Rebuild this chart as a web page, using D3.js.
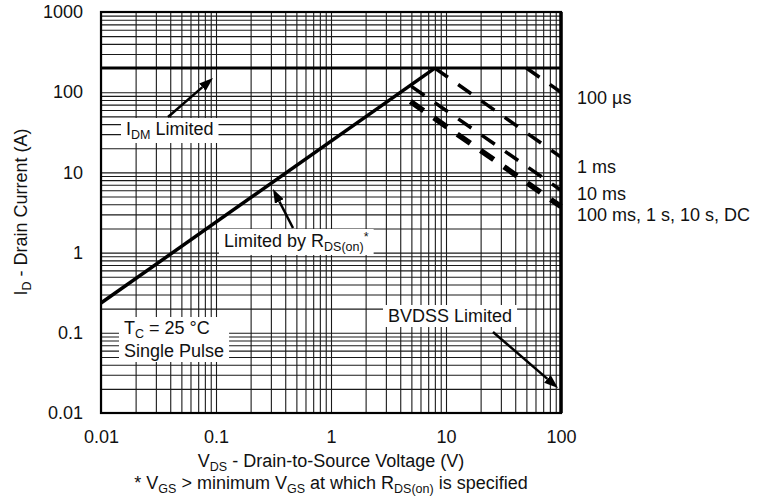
<!DOCTYPE html>
<html>
<head>
<meta charset="utf-8">
<script src="https://cdnjs.cloudflare.com/ajax/libs/d3/7.8.5/d3.min.js"></script>
<style>
  body { margin: 0; background: #fff; }
  text { font-family: "Liberation Sans", Arial, Helvetica, sans-serif; font-size: 18px; fill: #111; }
</style>
</head>
<body>
<div id="chart"></div>
<script>
// axis ticks
var xTicks = [0.01, 0.1, 1, 10, 100];
var yTicks = [0.01, 0.1, 1, 10, 100, 1000];

// limit lines, points are [V, A]
var idmLimit = [[0.01, 200], [100, 200]];
var rdsLimit = [[0.01, 0.235], [8, 200]];

// pulse width lines
var pulseNames = ["100 µs", "1 ms", "10 ms", "100 ms, 1 s, 10 s, DC"];
var pulse100us = [[50, 200], [100, 100]];
var pulse1ms = [[8, 200], [100, 15.5]];
var pulse10ms = [[5, 118], [100, 6]];
var pulseDC = [[4, 94], [100, 3.75]];
var pulseLabelAt = [85, 12, 5.5, 3.0];

// set the dimensions and margins of the graph
var margin = {top: 12, right: 196, bottom: 84, left: 101},
    width = 757 - margin.left - margin.right,
    height = 497 - margin.top - margin.bottom;

var x = d3.scaleLog().domain([0.01, 100]).range([0, width]);
var y = d3.scaleLog().domain([0.01, 1000]).range([height, 0]);

var line = d3.line()
    .x(function(d) { return x(d[0]); })
    .y(function(d) { return y(d[1]); });

var svg = d3.select("#chart").append("svg")
    .attr("width", 757)
    .attr("height", 497)
  .append("g")
    .attr("transform", "translate(" + margin.left + "," + margin.top + ")");

svg.append("defs").append("marker")
    .attr("id", "head")
    .attr("viewBox", "0 0 14 10")
    .attr("refX", 0).attr("refY", 5)
    .attr("markerUnits", "userSpaceOnUse")
    .attr("markerWidth", 14).attr("markerHeight", 10)
    .attr("orient", "auto")
  .append("path")
    .attr("d", "M0,0L14,5L0,10Z")
    .attr("fill", "#000");

// grid lines, every 1..9 in each decade
var gx = svg.append("g")
    .attr("transform", "translate(0," + height + ")")
    .call(d3.axisBottom(x).tickValues(x.ticks()).tickSize(-height).tickFormat(""));
var gy = svg.append("g")
    .call(d3.axisLeft(y).tickValues(y.ticks()).tickSize(-width).tickFormat(""));
[gx, gy].forEach(function(g) {
  g.select(".domain").remove();
  g.selectAll(".tick line").attr("stroke", "#1a1a1a").attr("stroke-width", 1.1);
});

// tick labels
var ax = svg.append("g")
    .attr("transform", "translate(0," + height + ")")
    .call(d3.axisBottom(x).tickValues(xTicks).tickSize(0).tickPadding(17)
      .tickFormat(function(d) { return String(d); }));
var ay = svg.append("g")
    .call(d3.axisLeft(y).tickValues(yTicks).tickSize(0).tickPadding(18)
      .tickFormat(function(d) { return String(d); }));
[ax, ay].forEach(function(g) {
  g.select(".domain").remove();
  g.selectAll("text").attr("font-size", 18).attr("font-family", null).attr("fill", "#111");
});

// frame, right edge is the BVDSS limit
svg.append("rect")
    .attr("width", width).attr("height", height)
    .attr("fill", "none").attr("stroke", "#000").attr("stroke-width", 2.2);
svg.append("line")
    .attr("x1", x(100)).attr("x2", x(100))
    .attr("y1", 0).attr("y2", height)
    .attr("stroke", "#000").attr("stroke-width", 3.5);

// limit lines
svg.append("path").datum(idmLimit)
    .attr("d", line).attr("fill", "none")
    .attr("stroke", "#000").attr("stroke-width", 3);
svg.append("path").datum(rdsLimit)
    .attr("d", line).attr("fill", "none")
    .attr("stroke", "#000").attr("stroke-width", 3.5);

// pulse lines
var pulses = [pulse100us, pulse1ms, pulse10ms, pulseDC];
var pulseWidth = [3.5, 3.5, 3.5, 5.5];
var pulseOffset = [0, 0, 0, 16];
pulses.forEach(function(p, i) {
  svg.append("path").datum(p)
      .attr("d", line).attr("fill", "none")
      .attr("stroke", "#000")
      .attr("stroke-width", pulseWidth[i])
      .attr("stroke-dasharray", "16,12.5")
      .attr("stroke-dashoffset", pulseOffset[i]);
  svg.append("text")
      .attr("x", x(100) + 16)
      .attr("y", y(pulseLabelAt[i]))
      .attr("dy", "0.36em")
      .text(pulseNames[i]);
});

// text with sub / superscript parts: [string, 0 normal | 1 sub | 2 sup]
function richText(sel, parts) {
  var shift = 0;
  parts.forEach(function(p) {
    var want = p[1] === 1 ? 4 : (p[1] === 2 ? -6 : 0);
    var t = sel.append("tspan").attr("dy", want - shift).text(p[0]);
    if (p[1]) t.attr("font-size", 12.5);
    shift = want;
  });
  return sel;
}

// labelled boxes
function label(px, py, lines, lead) {
  var g = svg.append("g");
  var box = g.append("rect").attr("fill", "#fff");
  lines.forEach(function(parts, i) {
    richText(g.append("text").attr("x", px).attr("y", py + i * (lead || 21)), parts);
  });
  var b = g.node().getBBox();
  box.attr("x", b.x - 5).attr("y", b.y - 1)
     .attr("width", b.width + 10).attr("height", b.height + 2);
}

function arrow(x1, y1, x2, y2) {
  var dx = x2 - x1, dy = y2 - y1, len = Math.sqrt(dx * dx + dy * dy);
  svg.append("line")
      .attr("x1", x1).attr("y1", y1)
      .attr("x2", x2 - dx / len * 14).attr("y2", y2 - dy / len * 14)
      .attr("stroke", "#000").attr("stroke-width", 2.5)
      .attr("marker-end", "url(#head)");
}

var ox = margin.left, oy = margin.top;
label(126 - ox, 135 - oy, [[["I", 0], ["DM", 1], [" Limited", 0]]]);
arrow(168 - ox, 117 - oy, 213 - ox, 78 - oy);

label(224 - ox, 247 - oy, [[["Limited by R", 0], ["DS(on)", 1], ["*", 2]]]);
arrow(293 - ox, 228 - oy, 273 - ox, 189 - oy);

label(124 - ox, 334 - oy, [[["T", 0], ["C", 1], [" = 25 °C", 0]], [["Single Pulse", 0]]], 23);

label(388 - ox, 322 - oy, [[["BVDSS Limited", 0]]]);
arrow(493 - ox, 332 - oy, 558 - ox, 388 - oy);

// axis titles
richText(svg.append("text")
    .attr("text-anchor", "middle")
    .attr("x", width / 2).attr("y", height + 54),
  [["V", 0], ["DS", 1], [" - Drain-to-Source Voltage (V)", 0]]);
richText(svg.append("text")
    .attr("text-anchor", "middle")
    .attr("x", width / 2).attr("y", height + 76),
  [["* V", 0], ["GS", 1], [" > minimum V", 0], ["GS", 1], [" at which R", 0], ["DS(on)", 1], [" is specified", 0]]);
richText(svg.append("text")
    .attr("text-anchor", "middle")
    .attr("transform", "translate(" + (27 - ox) + "," + (212 - oy) + ") rotate(-90)"),
  [["I", 0], ["D", 1], [" - Drain Current (A)", 0]]);
</script>
</body>
</html>
